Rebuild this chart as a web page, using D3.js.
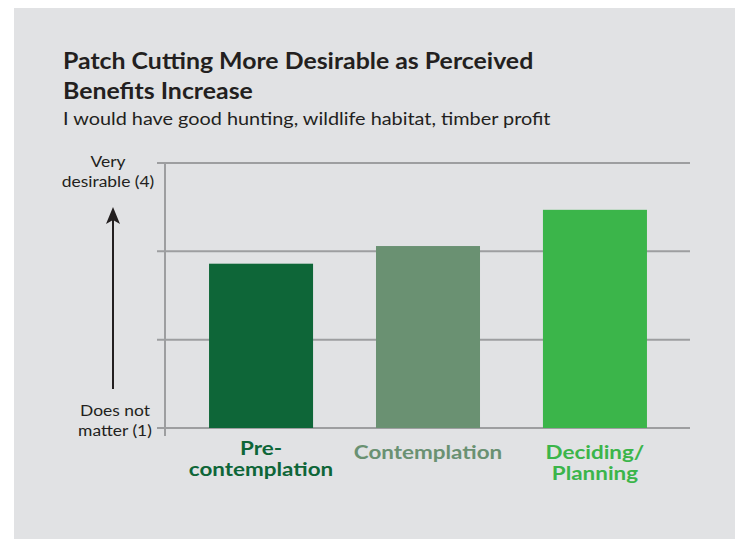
<!DOCTYPE html>
<html>
<head>
<meta charset="utf-8">
<script src="https://cdn.jsdelivr.net/npm/d3@7"></script>
<style>
  html, body { margin: 0; padding: 0; background: #ffffff; }
  svg { display: block; font-family: Lato, "Open Sans", sans-serif; }
</style>
</head>
<body>
<svg id="chart" width="735" height="539"></svg>
<script>
// Survey stages and mean desirability ratings (1 = does not matter, 4 = very desirable)
const stages = ["Pre-contemplation", "Contemplation", "Deciding/Planning"];
const stageLabels = [["Pre-", "contemplation"], ["Contemplation"], ["Deciding/", "Planning"]];
const ratings = [2.86, 3.06, 3.47];
const stageColors = ["#0e6638", "#6a9172", "#3bb54a"];
const gridTicks = [1, 2, 3, 4];

const svg = d3.select("#chart");
const ink = "#231f20";
const gridColor = "#9d9ea0";

// widen lettering horizontally around its anchor x
function widen(sel, ax, k) {
  sel.attr("transform", `translate(${ax * (1 - k)},0) scale(${k},1)`);
}

// background panel
svg.append("rect")
  .attr("x", 14).attr("y", 8)
  .attr("width", 721).attr("height", 531)
  .attr("fill", "#e1e2e4");

// titles
const title = svg.append("text")
  .attr("x", 63).attr("y", 69.5)
  .attr("font-size", 22.5).attr("font-weight", 700)
  .attr("fill", ink);
title.append("tspan").attr("x", 63).text("Patch Cutting More Desirable as Perceived");
title.append("tspan").attr("x", 63).attr("dy", 30).text("Benefits Increase");
widen(title, 63, 1.105);

const subtitle = svg.append("text")
  .attr("x", 63).attr("y", 125)
  .attr("font-size", 17.5)
  .attr("fill", ink)
  .text("I would have good hunting, wildlife habitat, timber profit");
widen(subtitle, 63, 1.135);

// scales
const y = d3.scaleLinear()
  .domain([1, 4])
  .range([428, 163]);

const x = d3.scaleBand()
  .domain(stages)
  .range([185, 671])
  .paddingInner(0.377)
  .paddingOuter(0.144);

// gridlines
svg.append("g")
  .selectAll("line")
  .data(gridTicks)
  .join("line")
  .attr("x1", 157).attr("x2", 690)
  .attr("y1", d => y(d)).attr("y2", d => y(d))
  .attr("stroke", gridColor)
  .attr("stroke-width", 2);

// vertical axis line
svg.append("line")
  .attr("x1", 165).attr("x2", 165)
  .attr("y1", y(4) - 1).attr("y2", y(1) + 8)
  .attr("stroke", gridColor)
  .attr("stroke-width", 2);

// bars
svg.append("g")
  .selectAll("rect")
  .data(stages)
  .join("rect")
  .attr("x", d => x(d))
  .attr("width", x.bandwidth())
  .attr("y", (d, i) => y(ratings[i]))
  .attr("height", (d, i) => y(1) - y(ratings[i]))
  .attr("fill", (d, i) => stageColors[i]);

// category labels
svg.append("g")
  .selectAll("text")
  .data(stages)
  .join("text")
  .attr("text-anchor", "middle")
  .attr("font-size", 19.5)
  .attr("font-weight", 700)
  .attr("fill", (d, i) => stageColors[i])
  .attr("y", (d, i) => i === 0 ? 455 : 459)
  .each(function (d, i) {
    const t = d3.select(this);
    const cx = x(d) + x.bandwidth() / 2;
    stageLabels[i].forEach((line, k) => {
      t.append("tspan")
        .attr("x", cx)
        .attr("dy", k === 0 ? 0 : 21)
        .text(line);
    });
    widen(t, cx, 1.15);
  });

// axis end labels
const topLabel = svg.append("text")
  .attr("text-anchor", "middle")
  .attr("font-size", 16)
  .attr("fill", ink)
  .attr("y", 167);
topLabel.append("tspan").attr("x", 108).text("Very");
topLabel.append("tspan").attr("x", 108).attr("dy", 20).text("desirable (4)");
widen(topLabel, 108, 1.09);

const bottomLabel = svg.append("text")
  .attr("text-anchor", "middle")
  .attr("font-size", 16)
  .attr("fill", ink)
  .attr("y", 416);
bottomLabel.append("tspan").attr("x", 115).text("Does not");
bottomLabel.append("tspan").attr("x", 115).attr("dy", 20).text("matter (1)");
widen(bottomLabel, 115, 1.09);

// arrow pointing toward more desirable
svg.append("line")
  .attr("x1", 113).attr("x2", 113)
  .attr("y1", 389).attr("y2", 214)
  .attr("stroke", ink)
  .attr("stroke-width", 2);

svg.append("path")
  .attr("d", d3.line()([[113, 207], [120, 224], [113, 220], [106, 224]]) + "Z")
  .attr("fill", ink);
</script>
</body>
</html>
